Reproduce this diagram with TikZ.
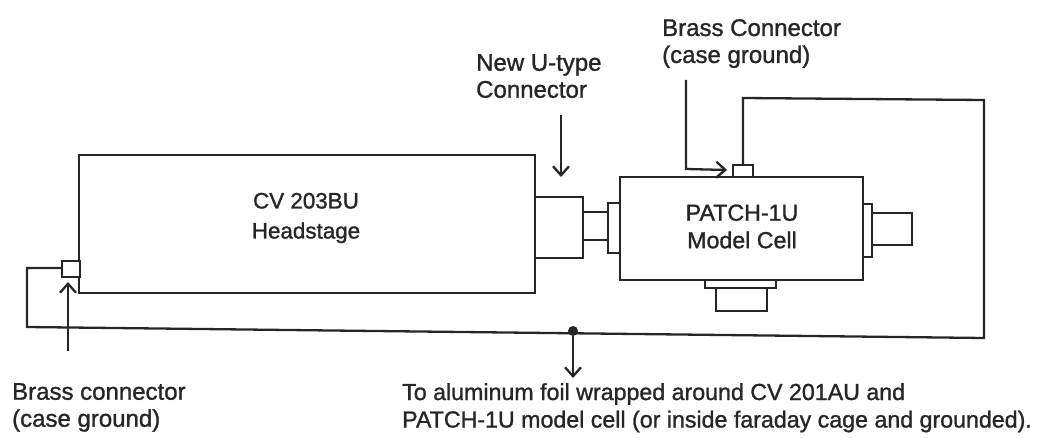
\documentclass[tikz,border=0pt]{standalone}
\usepackage{fontspec}
\setmainfont[FakeBold=1.2]{Liberation Sans}
\usepackage{xcolor}
\usetikzlibrary{calc,arrows.meta,positioning}

\definecolor{scanink}{HTML}{262626}

\begin{document}
\begin{tikzpicture}[
    x=1pt,
    y=-1pt,
    >={Straight Barb[length=9pt,width=16pt]},
    part/.style={
        draw=scanink,
        line width=2.3pt,
        fill=white,
        inner sep=0pt,
        outer sep=0pt
    },
    wire/.style={draw=scanink,line width=2.3pt,line join=miter},
    pointer/.style={draw=scanink,line width=2.3pt,->},
    txt/.style={
        text=scanink,
        font=\fontsize{23.2}{27.5}\selectfont,
        align=left,
        inner sep=0pt
    },
    txtwide/.style={
        txt,
        font=\fontsize{24}{27}\selectfont
    },
    junction/.style={circle,fill=scanink,inner sep=0pt,minimum size=10pt}
]

\useasboundingbox (0,0) rectangle (1059,438);

% ---------------------------------------------------------
% Headstage and U-type connector
% ---------------------------------------------------------

\node[part,minimum width=456pt,minimum height=138pt,align=center] (headstage) at (307,224) {};
\node[txt,align=center,font=\fontsize{22.4}{30}\selectfont] at (306,218) {CV 203BU\\Headstage};

\node[part,minimum width=48pt,minimum height=61pt] (ucon) at (559,227.5) {};

\node[part,minimum width=25pt,minimum height=28pt] (stub) at (595.5,226) {};

% ---------------------------------------------------------
% Model cell and its fittings
% ---------------------------------------------------------

\node[part,minimum width=12pt,minimum height=50pt] (flangeleft) at (614,228) {};

\node[part,minimum width=243pt,minimum height=103pt] (cell) at (741.5,228.5) {};
\node[txt,align=center] at (742,226.5) {PATCH-1U\\Model Cell};

\node[part,minimum width=9pt,minimum height=53pt] (flangeright) at (867.5,230.5) {};
\node[part,minimum width=40pt,minimum height=32pt] (plugright) at (892,229) {};

\node[part,minimum width=71pt,minimum height=8pt] (flangebottom) at (740.5,284) {};
\node[part,minimum width=51pt,minimum height=23pt] (plugbottom) at (741.5,299.5) {};

% ---------------------------------------------------------
% Brass connectors
% ---------------------------------------------------------

\node[part,minimum width=20pt,minimum height=12pt] (brasstop) at (743,171) {};
\node[part,minimum width=18pt,minimum height=16pt] (brassleft) at (71,269) {};

% ---------------------------------------------------------
% Ground wire
% ---------------------------------------------------------

\coordinate (wireTL) at (743,98);
\coordinate (wireTR) at (984,100);
\coordinate (wireBR) at (984,338);
\coordinate (wireBL) at (27,327);
\coordinate (wireUL) at (27,268);

\draw[wire]
    (brasstop.north) -- (wireTL) -- (wireTR) -- (wireBR) -- (wireBL)
    -- (wireUL) -- (brassleft.west |- wireUL);

\node[junction] (dot) at (573,331) {};

% ---------------------------------------------------------
% Labels and pointers
% ---------------------------------------------------------

\node[txtwide,anchor=north west] (lblbrasstop) at (662,19) {Brass Connector\\(case ground)};
\node[txtwide,anchor=north west] (lblucon) at (476,54) {New U-type\\Connector};
\node[txtwide,anchor=north west] (lblbrassleft) at (12,383) {Brass connector\\(case ground)};
\node[txt,anchor=north west] (lblfoil) at (402,383)
{To aluminum foil wrapped around CV 201AU and\\PATCH-1U model cell (or inside faraday cage and grounded).};

\coordinate (ptrA) at (686,80);
\coordinate (ptrB) at (686,169);
\coordinate (ptrC) at (727,170);
\draw[pointer] (ptrA) -- (ptrB) -- (ptrC);

\coordinate (ptrU) at (561,115);
\coordinate (ptrUend) at (561,177);
\draw[pointer] (ptrU) -- (ptrUend);

\coordinate (ptrL) at (68,351);
\coordinate (ptrLend) at (68,282);
\draw[pointer] (ptrL) -- (ptrLend);

\coordinate (ptrFoil) at (573,378);
\draw[pointer] (dot) -- (ptrFoil);

\end{tikzpicture}
\end{document}
